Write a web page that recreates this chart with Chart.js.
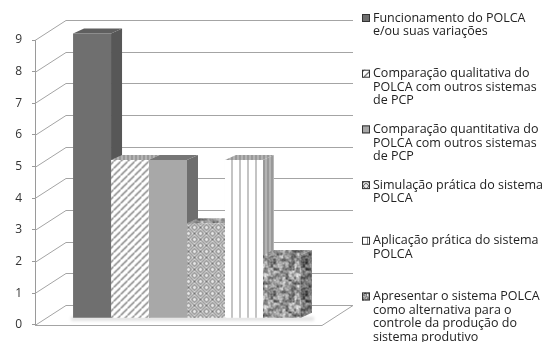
<!DOCTYPE html>
<html>
<head>
  <title>POLCA - temas abordados</title>
  <script src="https://cdn.jsdelivr.net/npm/chart.js"></script>
  <style>
    body {
      margin: 0;
      background-color: #fff;
    }
    canvas {
      display: block;
    }
  </style>
</head>
<body>
  <canvas id="polcaChart" width="552" height="342"></canvas>

  <script>
    // dados
    const categories = [''];
    const seriesLabels = [
      ['Funcionamento do POLCA', 'e/ou suas variações'],
      ['Comparação qualitativa do', 'POLCA com outros sistemas', 'de PCP'],
      ['Comparação quantitativa do', 'POLCA com outros sistemas', 'de PCP'],
      ['Simulação prática do sistema', 'POLCA'],
      ['Aplicação prática do sistema', 'POLCA'],
      ['Apresentar o sistema POLCA', 'como alternativa para o', 'controle da produção do', 'sistema produtivo']
    ];
    const values = [9, 5, 5, 3, 5, 2];
    const yTicks = [0, 1, 2, 3, 4, 5, 6, 7, 8, 9];

    const helper = document.createElement('canvas').getContext('2d');

    function makePattern(w, h, draw) {
      const c = document.createElement('canvas');
      c.width = w;
      c.height = h;
      const g = c.getContext('2d');
      draw(g, w, h);
      return helper.createPattern(c, 'repeat');
    }

    // textura "granito" deterministica
    function hash(x, y, s) {
      const v = Math.sin(x * 12.9898 + y * 78.233 + s * 37.719) * 43758.5453;
      return v - Math.floor(v);
    }
    function granite(base, spread) {
      return makePattern(32, 32, (g, w, h) => {
        const img = g.createImageData(w, h);
        for (let y = 0; y < h; y++) {
          for (let x = 0; x < w; x++) {
            const n1 = hash(x, y, 1);
            const n2 = hash(Math.floor(x / 3), Math.floor(y / 3), 2);
            let v = base + (n1 - 0.5) * spread + (n2 - 0.5) * spread * 1.2;
            v = Math.max(0, Math.min(255, v));
            const i = (y * w + x) * 4;
            img.data[i] = img.data[i + 1] = img.data[i + 2] = v;
            img.data[i + 3] = 255;
          }
        }
        g.putImageData(img, 0, 0);
      });
    }

    const diagonal = makePattern(7, 7, (g) => {
      g.fillStyle = '#fff';
      g.fillRect(0, 0, 7, 7);
      g.strokeStyle = '#7a7a7a';
      g.lineWidth = 1.3;
      g.beginPath();
      g.moveTo(-1, 8); g.lineTo(8, -1);
      g.stroke();
    });

    const weave = makePattern(12, 12, (g) => {
      g.fillStyle = '#fff';
      g.fillRect(0, 0, 12, 12);
      g.strokeStyle = '#707070';
      g.lineWidth = 1.2;
      const cells = [[0, 0, 1], [6, 6, 1], [6, 0, -1], [0, 6, -1]];
      cells.forEach(([cx, cy, dir]) => {
        g.save();
        g.beginPath();
        g.rect(cx, cy, 6, 6);
        g.clip();
        g.beginPath();
        for (let k = -6; k <= 12; k += 3) {
          if (dir > 0) {
            g.moveTo(cx + k, cy + 6); g.lineTo(cx + k + 6, cy);
          } else {
            g.moveTo(cx + k, cy); g.lineTo(cx + k + 6, cy + 6);
          }
        }
        g.stroke();
        g.restore();
      });
    });

    const vertical = makePattern(8, 4, (g) => {
      g.fillStyle = '#fff';
      g.fillRect(0, 0, 8, 4);
      g.fillStyle = '#8a8a8a';
      g.fillRect(7, 0, 1, 4);
    });

    const verticalDark = makePattern(4, 4, (g) => {
      g.fillStyle = '#b4b4b4';
      g.fillRect(0, 0, 4, 4);
      g.fillStyle = '#7e7e7e';
      g.fillRect(3, 0, 1, 4);
    });

    const faces = [
      { front: '#6f6f6f', top: '#5f5f5f', side: '#575757' },
      { front: diagonal, top: verticalDark, side: '#8a8a8a' },
      { front: '#a8a8a8', top: '#767676', side: '#6e6e6e' },
      { front: weave, top: granite(150, 70), side: '#8a8a8a' },
      { front: vertical, top: verticalDark, side: verticalDark },
      { front: granite(152, 90), top: granite(140, 80), side: granite(115, 80) }
    ];

    // profundidade da caixa e das barras
    const wallDepth = { x: 31, y: -20 };
    const barShift = { x: 8.5, y: -6.5 };
    const barDepth = { x: 11, y: -5 };

    const box3d = {
      id: 'box3d',
      beforeDatasetsDraw(chart) {
        const ctx = chart.ctx;
        const y = chart.scales.y;
        const area = chart.chartArea;
        ctx.save();
        ctx.strokeStyle = '#a4a4a4';
        ctx.lineWidth = 1;
        ctx.beginPath();
        yTicks.forEach(v => {
          const py = Math.round(y.getPixelForValue(v)) + 0.5;
          ctx.moveTo(area.left, py);
          ctx.lineTo(area.left + wallDepth.x, py + wallDepth.y);
          ctx.lineTo(area.right + wallDepth.x, py + wallDepth.y);
        });
        const p0 = Math.round(y.getPixelForValue(0)) + 0.5;
        ctx.moveTo(area.left, p0);
        ctx.lineTo(area.right, p0);
        ctx.lineTo(area.right + wallDepth.x, p0 + wallDepth.y);
        ctx.stroke();

        // barras em ordem da esquerda para a direita (visual)
        const metas = chart.getSortedVisibleDatasetMetas()
          .slice().sort((a, b) => a.data[0].x - b.data[0].x);

        // sombra no piso
        let minX = Infinity, maxX = -Infinity, base = 0;
        metas.forEach(m => {
          const b = m.data[0];
          minX = Math.min(minX, b.x - b.width / 2);
          maxX = Math.max(maxX, b.x + b.width / 2);
          base = b.base;
        });
        ctx.fillStyle = 'rgba(0,0,0,0.12)';
        ctx.filter = 'blur(1.5px)';
        ctx.fillRect(minX + barShift.x - 2, base + barShift.y - 1, maxX - minX + barDepth.x + 4, 4);
        ctx.filter = 'none';

        // faces de topo e laterais (atras das frentes)
        ctx.translate(barShift.x, barShift.y);
        metas.forEach(m => {
          const bar = m.data[0];
          const f = faces[m.index];
          const l = bar.x - bar.width / 2;
          const r = bar.x + bar.width / 2;
          ctx.beginPath();
          ctx.moveTo(r, bar.y);
          ctx.lineTo(r + barDepth.x, bar.y + barDepth.y);
          ctx.lineTo(r + barDepth.x, bar.base + barDepth.y);
          ctx.lineTo(r, bar.base);
          ctx.closePath();
          ctx.fillStyle = f.side;
          ctx.fill();
          ctx.beginPath();
          ctx.moveTo(l, bar.y);
          ctx.lineTo(l + barDepth.x, bar.y + barDepth.y);
          ctx.lineTo(r + barDepth.x, bar.y + barDepth.y);
          ctx.lineTo(r, bar.y);
          ctx.closePath();
          ctx.fillStyle = f.top;
          ctx.fill();
        });
        ctx.restore();
      },
      beforeDatasetDraw(chart) {
        chart.ctx.save();
        chart.ctx.translate(barShift.x, barShift.y);
      },
      afterDatasetDraw(chart) {
        chart.ctx.restore();
      }
    };

    const sideLegend = {
      id: 'sideLegend',
      afterDraw(chart) {
        const ctx = chart.ctx;
        const x = chart.chartArea.right + 40;
        ctx.save();
        ctx.font = '12.5px "Open Sans"';
        ctx.textBaseline = 'middle';
        seriesLabels.forEach((lines, i) => {
          const top = 18 + i * 55.7;
          ctx.fillStyle = faces[i].front;
          ctx.fillRect(x, top - 4, 8, 8);
          ctx.strokeStyle = '#333';
          ctx.lineWidth = 1;
          ctx.strokeRect(x + 0.5, top - 3.5, 7, 7);
          ctx.fillStyle = '#222';
          lines.forEach((t, j) => ctx.fillText(t, x + 11, top + j * 13.6));
        });
        ctx.restore();
      }
    };

    const ctx = document.getElementById('polcaChart').getContext('2d');

    new Chart(ctx, {
      type: 'bar',
      data: {
        labels: categories,
        datasets: values.map((v, i) => ({
          label: seriesLabels[i].join(' '),
          data: [v],
          backgroundColor: faces[i].front,
          borderWidth: 0,
          barPercentage: 1,
          categoryPercentage: 0.794,
          clip: false
        }))
      },
      options: {
        responsive: false,
        animation: false,
        layout: {
          padding: { top: 40, bottom: 5, left: 0, right: 230 }
        },
        plugins: {
          legend: { display: false },
          tooltip: { enabled: false }
        },
        scales: {
          x: { display: false },
          y: {
            min: 0,
            max: 9,
            afterFit: (scale) => { scale.width = 35; },
            ticks: {
              stepSize: 1,
              padding: 10,
              color: '#333',
              font: { family: 'Open Sans', size: 12 }
            },
            grid: {
              drawOnChartArea: false,
              drawTicks: true,
              tickLength: 3,
              color: '#9a9a9a'
            },
            border: { display: true, color: '#9a9a9a' }
          }
        }
      },
      plugins: [box3d, sideLegend]
    });
  </script>
</body>
</html>
